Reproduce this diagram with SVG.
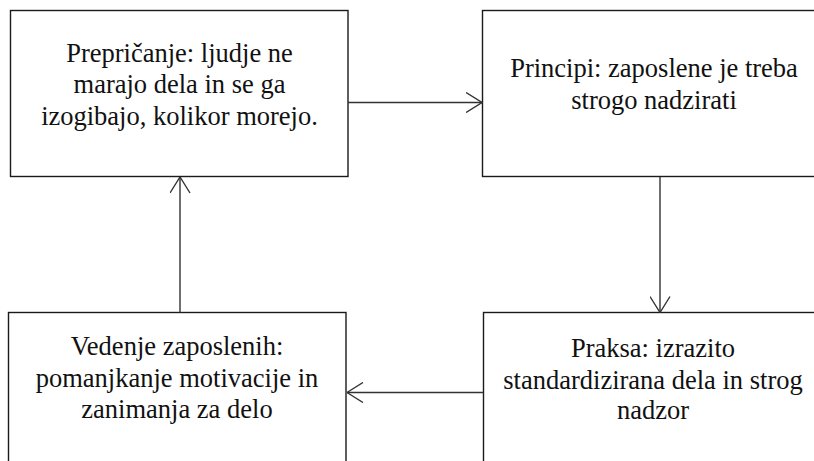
<svg xmlns="http://www.w3.org/2000/svg" width="814" height="461" viewBox="0 0 814 461">
<style>
.box{fill:#fff;stroke:#1a1a1a;stroke-width:1.4}
.con{fill:none;stroke:#333;stroke-width:1.4}
</style>
<defs>
<marker id="arr" viewBox="0 0 17 21" refX="16.5" refY="10.5" markerWidth="17" markerHeight="21" orient="auto" markerUnits="userSpaceOnUse">
<path d="M0.5,0.5 L16.5,10.5 L0.5,20.5" fill="none" stroke="#333" stroke-width="1.4"/>
</marker>
</defs>
<rect width="814" height="461" fill="#fff"/>
<g font-family="Liberation Serif, DejaVu Serif, serif" font-size="26.5" fill="#111" text-anchor="middle">
<g id="n1">
<rect class="box" x="10.5" y="10.5" width="337.5" height="166"/>
<text x="179.5" y="61.5">Prepričanje: ljudje ne</text>
<text x="179.5" y="93">marajo dela in se ga</text>
<text x="179.5" y="124.5">izogibajo, kolikor morejo.</text>
</g>
<g id="n2">
<rect class="box" x="482.5" y="10.5" width="345" height="166"/>
<text x="654" y="77">Principi: zaposlene je treba</text>
<text x="654" y="108.5">strogo nadzirati</text>
</g>
<g id="n3">
<rect class="box" x="483.5" y="312.5" width="345" height="170"/>
<text x="653" y="357">Praksa: izrazito</text>
<text x="653" y="388.5">standardizirana dela in strog</text>
<text x="653" y="418.5">nadzor</text>
</g>
<g id="n4">
<rect class="box" x="8.5" y="312.5" width="337.5" height="170"/>
<text x="177" y="355">Vedenje zaposlenih:</text>
<text x="177" y="386.5">pomanjkanje motivacije in</text>
<text x="177" y="418">zanimanja za delo</text>
</g>
</g>
<g id="connectors">
<line class="con" x1="348" y1="102.5" x2="482" y2="102.5" marker-end="url(#arr)"/>
<line class="con" x1="660" y1="177" x2="660" y2="312.5" marker-end="url(#arr)"/>
<line class="con" x1="483.5" y1="392.5" x2="347" y2="392.5" marker-end="url(#arr)"/>
<line class="con" x1="180" y1="312.5" x2="180" y2="177" marker-end="url(#arr)"/>
</g>
</svg>
